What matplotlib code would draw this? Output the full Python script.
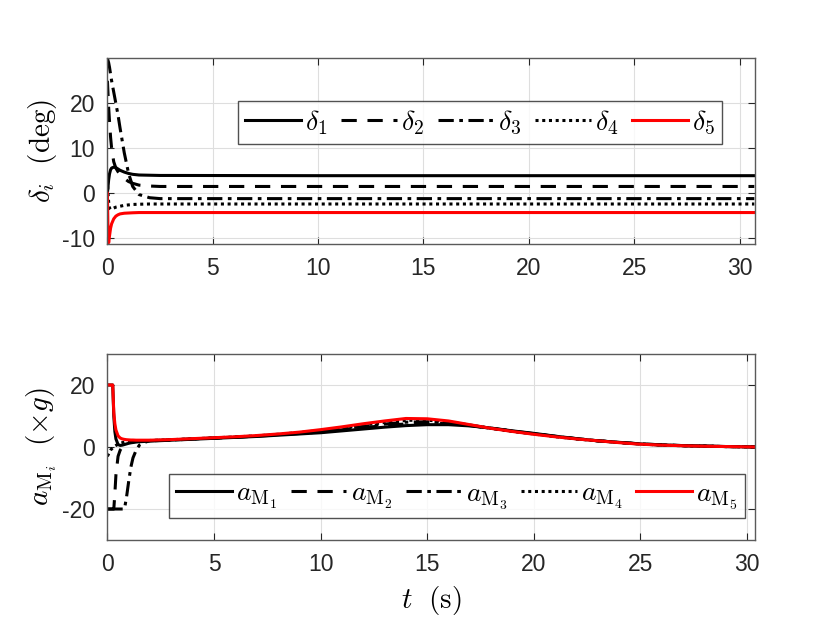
import matplotlib
matplotlib.use("Agg")
import matplotlib.pyplot as plt

plt.rcParams['font.family'] = ['Liberation Sans', 'DejaVu Sans']
plt.rcParams['mathtext.fontset'] = 'cm'
plt.rcParams['axes.unicode_minus'] = False

# ---------------- top panel data (deg) ----------------
t_top = [0, 0.03, 0.06, 0.1, 0.15, 0.2, 0.3, 0.4, 0.5, 0.6, 0.8, 1.0, 1.2, 1.5, 2.0, 2.5, 3.0, 10, 20, 30.7]
delta1 = [0, 1.5, 3.0, 4.3, 5.2, 5.6, 5.8, 5.7, 5.4, 5.1, 4.7, 4.4, 4.2, 4.05, 4.0, 3.95, 3.95, 3.9, 3.9, 3.9]
delta2 = [25, 22, 19, 16, 12.5, 10, 7, 5.6, 4.8, 4.2, 3.3, 2.6, 2.2, 1.8, 1.6, 1.5, 1.5, 1.5, 1.5, 1.5]
delta3 = [30, 29.5, 29, 28, 26.5, 25, 22.5, 20, 17.5, 14.5, 9.0, 4.5, 1.5, -0.3, -1.0, -1.2, -1.2, -1.2, -1.2, -1.2]
delta4 = [3, 0, -2, -3.3, -3.6, -3.5, -3.3, -3.1, -3.0, -2.9, -2.7, -2.6, -2.5, -2.45, -2.4, -2.4, -2.4, -2.4, -2.4, -2.4]
delta5 = [0, -9, -11, -9.5, -7.8, -6.8, -5.7, -5.1, -4.8, -4.6, -4.45, -4.4, -4.35, -4.3, -4.3, -4.3, -4.3, -4.3, -4.3, -4.3]

# ---------------- bottom panel data (x g) ----------------
t_early = [0, 0.05, 0.1, 0.15, 0.2, 0.25, 0.3, 0.35, 0.4, 0.5, 0.6, 0.7, 0.8, 0.9, 1.0, 1.1, 1.2, 1.35, 1.5, 1.75]
t_late = [2, 3, 4, 5, 6, 7, 8, 9, 10, 11, 12, 13, 14, 15, 16, 17, 18, 19, 20, 21, 22, 23, 24, 25, 26, 27, 28, 29, 30, 30.4]

aM1_early = [20, 20, 20, 20, 20, 20, 10, 5, 2.6, 0.8, 0.5, 0.6, 0.8, 1.0, 1.2, 1.35, 1.45, 1.6, 1.7, 1.8]
aM2_early = [-20, -20, -20, -20, -20, -20, -20, -15, -9, -3, -1, 0, 0.7, 1.1, 1.4, 1.6, 1.7, 1.8, 1.9, 1.95]
aM3_early = [-20, -20, -20, -20, -20, -20, -20, -20, -20, -20, -20, -20, -20, -16, -11, -6.5, -3.5, -1, 0.6, 1.5]
aM4_early = [-3, -2.3, -1.6, -1.0, -0.6, -0.3, 0, 0.3, 0.5, 0.9, 1.2, 1.4, 1.6, 1.7, 1.8, 1.85, 1.9, 1.95, 2.0, 2.05]
aM5_early = [20, 20, 20, 20, 20, 20, 11, 7.5, 5.5, 3.6, 2.9, 2.6, 2.45, 2.35, 2.3, 2.25, 2.25, 2.2, 2.2, 2.2]

aM1_late = [1.9, 2.2, 2.5, 2.8, 3.1, 3.4, 3.8, 4.2, 4.6, 5.2, 5.8, 6.4, 6.9, 7.2, 7.2, 6.8, 6.1, 5.2, 4.4, 3.5, 2.7, 2.0, 1.5, 1.0, 0.7, 0.45, 0.3, 0.15, 0.05, 0]
aM2_late = [2.0, 2.25, 2.55, 2.85, 3.15, 3.5, 3.9, 4.35, 4.85, 5.55, 6.25, 6.9, 7.45, 7.7, 7.5, 6.9, 6.05, 5.15, 4.3, 3.45, 2.7, 2.0, 1.5, 1.0, 0.7, 0.45, 0.3, 0.15, 0.05, 0]
aM3_late = [2.05, 2.3, 2.6, 2.9, 3.2, 3.55, 4.0, 4.5, 5.1, 5.85, 6.65, 7.4, 8.0, 8.15, 7.8, 7.0, 6.0, 5.1, 4.25, 3.4, 2.65, 2.0, 1.45, 0.95, 0.65, 0.42, 0.28, 0.15, 0.05, 0]
aM4_late = [2.1, 2.35, 2.65, 2.95, 3.25, 3.6, 4.1, 4.65, 5.35, 6.2, 7.1, 7.9, 8.6, 8.65, 8.1, 7.1, 6.0, 5.05, 4.2, 3.35, 2.6, 2.0, 1.45, 0.95, 0.6, 0.4, 0.25, 0.15, 0.05, 0]
aM5_late = [2.2, 2.4, 2.7, 3.0, 3.3, 3.7, 4.2, 4.8, 5.6, 6.5, 7.5, 8.4, 9.2, 9.1, 8.4, 7.2, 6.0, 5.0, 4.1, 3.3, 2.6, 2.0, 1.4, 0.9, 0.6, 0.4, 0.25, 0.15, 0.05, 0]

top_labels = [r'$\delta_1$', r'$\delta_2$', r'$\delta_3$', r'$\delta_4$', r'$\delta_5$']
bot_labels = [r'$a_{\mathrm{M}_1}$', r'$a_{\mathrm{M}_2}$', r'$a_{\mathrm{M}_3}$', r'$a_{\mathrm{M}_4}$', r'$a_{\mathrm{M}_5}$']
top_yticks = [-10, 0, 10, 20]
bot_yticks = [-20, 0, 20]
xticks = [0, 5, 10, 15, 20, 25, 30]

styles = [dict(color='black', ls='-'),
          dict(color='black', ls=(0, (5, 3.5))),
          dict(color='black', ls=(0, (5, 1.8, 1.2, 1.8))),
          dict(color='black', ls=(0, (1, 1.2))),
          dict(color='red', ls='-')]

fig = plt.figure(figsize=(8.3, 6.23), dpi=100)
ax1 = fig.add_axes([0.1294, 0.6083, 0.7802, 0.2981])
ax2 = fig.add_axes([0.1294, 0.1332, 0.7802, 0.2986])

top_series = [delta1, delta2, delta3, delta4, delta5]
for y, st, lab in zip(top_series, styles, top_labels):
    ax1.plot(t_top, y, lw=2.2, label=lab, **st)

bot_series = [(aM1_early, aM1_late), (aM2_early, aM2_late), (aM3_early, aM3_late),
              (aM4_early, aM4_late), (aM5_early, aM5_late)]
t_bot = t_early + t_late
for (ye, yl), st, lab in zip(bot_series, styles, bot_labels):
    ax2.plot(t_bot, ye + yl, lw=2.2, label=lab, **st)

ax1.set_xlim(0, 30.73)
ax1.set_ylim(-11.3, 30)
ax2.set_xlim(0, 30.37)
ax2.set_ylim(-30, 30)
ax1.set_yticks(top_yticks)
ax2.set_yticks(bot_yticks)
for ax in (ax1, ax2):
    ax.set_xticks(xticks)
    ax.grid(True, color='#dedede', lw=0.8)
    ax.set_axisbelow(True)
    ax.tick_params(direction='in', top=True, right=True, length=5, width=0.8,
                   labelsize=16.5, colors='#262626', pad=9)
    for s in ax.spines.values():
        s.set_color('#5a5a5a')
        s.set_linewidth(1.0)

ax1.set_ylabel(r'$\delta_i\ \ (\mathrm{deg})$', fontsize=21, labelpad=2)
ax2.set_ylabel(r'$a_{\mathrm{M}_i}\ \ (\times g)$', fontsize=21, labelpad=2)
ax2.set_xlabel(r'$t\ \ (\mathrm{s})$', fontsize=21, labelpad=6)

leg_kw = dict(ncol=5, fontsize=20, frameon=True, fancybox=False, edgecolor='#262626',
              handlelength=2.0, handletextpad=0.15, columnspacing=0.5,
              borderpad=0.25, borderaxespad=0.0)
l1 = ax1.legend(loc='upper right', bbox_to_anchor=(0.949, 0.770), **leg_kw)
l2 = ax2.legend(loc='lower right', bbox_to_anchor=(0.984, 0.118), **leg_kw)
for l in (l1, l2):
    l.get_frame().set_linewidth(1.0)

fig.savefig('out.png', dpi=100)
